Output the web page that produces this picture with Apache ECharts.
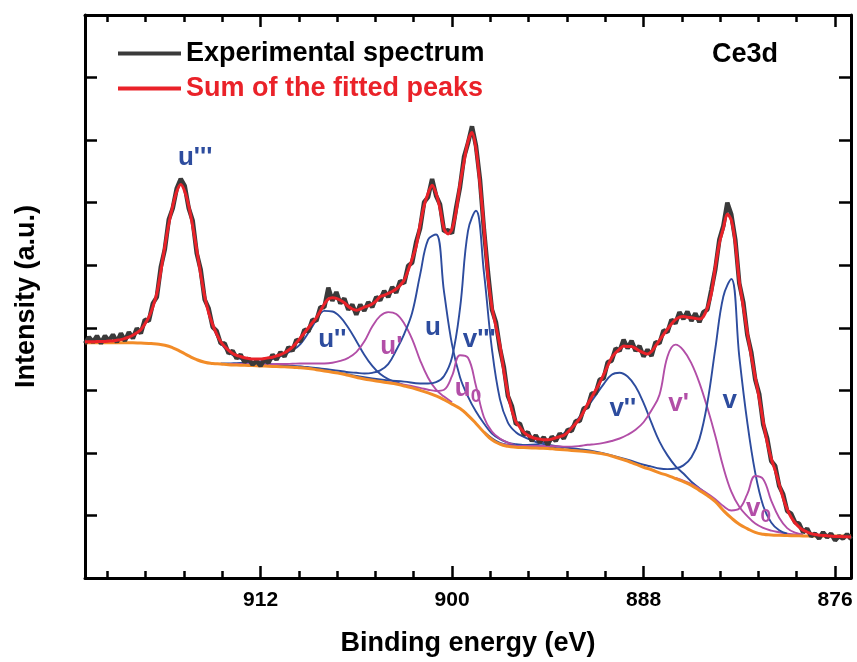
<!DOCTYPE html>
<html>
<head>
<meta charset="utf-8">
<script src="https://cdn.jsdelivr.net/npm/echarts@6/dist/echarts.min.js"></script>
<style>
  html, body { margin: 0; padding: 0; background: #fff; }
  #chart { width: 857px; height: 662px; }
</style>
</head>
<body>
<div id="chart"></div>
<script>
// Ce 3d XPS spectrum: measured curve, fitted envelope, Shirley background and component peaks.

// Binding-energy tick labels and minor tick positions (eV)
const majorTicks = [876, 888, 900, 912];
const minorTicks = [878.4, 880.8, 883.2, 885.6, 890.4, 892.8, 895.2, 897.6,
                    902.4, 904.8, 907.2, 909.6, 914.4, 916.8, 919.2, 921.6];

// Background, sampled every 0.5 eV from 875 to 923 eV (a.u.)
const backgroundStart = 875;
const backgroundStep = 0.5;
const background = [
  0.67, 0.67, 0.67, 0.67, 0.67, 0.67, 0.672, 0.675, 0.678, 0.682,
  0.688, 0.70, 0.73, 0.79, 0.86, 0.96, 1.08, 1.22, 1.32, 1.40,
  1.48, 1.54, 1.59, 1.64, 1.68, 1.73, 1.77, 1.82, 1.87, 1.91,
  1.95, 1.98, 2.00, 2.02, 2.03, 2.04, 2.05, 2.06, 2.07, 2.075,
  2.08, 2.085, 2.09, 2.105, 2.14, 2.21, 2.33, 2.47, 2.60, 2.71,
  2.78, 2.85, 2.91, 2.96, 3.00, 3.04, 3.07, 3.10, 3.12, 3.14,
  3.16, 3.18, 3.21, 3.24, 3.27, 3.29, 3.31, 3.33, 3.35, 3.36,
  3.37, 3.375, 3.38, 3.385, 3.39, 3.395, 3.40, 3.405, 3.41, 3.42,
  3.43, 3.45, 3.49, 3.55, 3.62, 3.68, 3.72, 3.74, 3.75, 3.755,
  3.76, 3.76, 3.76, 3.76, 3.76, 3.76, 3.76
];

// Spectra sampled every 0.25 eV from 875 to 923 eV (a.u.)
const spectrumStart = 875;
const spectrumStep = 0.25;
const measured = [
  0.62, 0.70, 0.63, 0.67, 0.60, 0.71, 0.65, 0.73, 0.63, 0.71,
  0.67, 0.79, 0.73, 0.87, 0.89, 1.03, 1.07, 1.34, 1.47, 1.79,
  1.87, 2.23, 2.45, 2.94, 3.17, 3.61, 3.89, 4.41, 4.71, 5.41,
  5.81, 6.00, 5.63, 5.41, 4.94, 4.61, 4.29, 4.25, 4.09, 4.23,
  4.11, 4.26, 4.14, 4.25, 4.07, 4.13, 3.93, 3.96, 3.75, 3.77,
  3.55, 3.65, 3.54, 3.71, 3.63, 3.79, 3.67, 3.81, 3.63, 3.67,
  3.47, 3.45, 3.19, 3.17, 2.95, 2.95, 2.73, 2.71, 2.51, 2.51,
  2.35, 2.37, 2.23, 2.31, 2.19, 2.26, 2.13, 2.25, 2.17, 2.28,
  2.19, 2.33, 2.29, 2.47, 2.46, 2.75, 2.91, 3.37, 3.67, 4.09,
  4.29, 4.89, 5.57, 6.37, 6.91, 7.22, 6.95, 6.73, 6.25, 5.91,
  5.51, 5.56, 5.54, 5.97, 6.11, 6.38, 6.09, 6.01, 5.59, 5.37,
  5.04, 4.99, 4.71, 4.75, 4.56, 4.65, 4.49, 4.59, 4.44, 4.49,
  4.33, 4.41, 4.27, 4.37, 4.21, 4.37, 4.29, 4.47, 4.39, 4.57,
  4.43, 4.64, 4.33, 4.33, 4.11, 4.13, 3.94, 3.97, 3.78, 3.81,
  3.63, 3.69, 3.54, 3.61, 3.49, 3.57, 3.44, 3.50, 3.39, 3.47,
  3.41, 3.51, 3.45, 3.57, 3.51, 3.63, 3.59, 3.75, 3.75, 3.95,
  4.01, 4.31, 4.45, 4.93, 5.19, 5.71, 5.91, 6.27, 6.38, 6.23,
  5.91, 5.73, 5.25, 4.97, 4.49, 4.39, 4.11, 4.13, 3.91, 3.99,
  3.83, 3.93, 3.79, 3.91, 3.77, 3.89, 3.79, 3.87, 3.75, 3.87,
  3.77, 3.85, 3.75
];
const fittedSum = [
  0.655, 0.66, 0.66, 0.665, 0.665, 0.67, 0.675, 0.68, 0.685, 0.695,
  0.71, 0.735, 0.765, 0.815, 0.88, 0.97, 1.10, 1.28, 1.50, 1.72,
  1.91, 2.17, 2.50, 2.87, 3.21, 3.55, 3.93, 4.34, 4.74, 5.35,
  5.72, 5.82, 5.59, 5.35, 4.98, 4.55, 4.32, 4.18, 4.14, 4.15,
  4.16, 4.17, 4.18, 4.17, 4.13, 4.06, 3.98, 3.89, 3.80, 3.71,
  3.62, 3.58, 3.60, 3.63, 3.67, 3.70, 3.70, 3.71, 3.66, 3.60,
  3.52, 3.39, 3.25, 3.12, 3.00, 2.89, 2.78, 2.66, 2.55, 2.47,
  2.40, 2.33, 2.28, 2.26, 2.24, 2.22, 2.21, 2.21, 2.22, 2.23,
  2.25, 2.28, 2.33, 2.41, 2.50, 2.68, 2.95, 3.30, 3.72, 4.02,
  4.33, 4.82, 5.61, 6.30, 6.86, 7.12, 6.98, 6.65, 6.30, 5.85,
  5.58, 5.50, 5.58, 5.90, 6.15, 6.28, 6.15, 5.95, 5.65, 5.30,
  5.10, 4.92, 4.76, 4.68, 4.62, 4.58, 4.55, 4.52, 4.50, 4.43,
  4.38, 4.35, 4.33, 4.30, 4.28, 4.30, 4.34, 4.40, 4.44, 4.47,
  4.48, 4.46, 4.38, 4.27, 4.16, 4.08, 4.00, 3.92, 3.84, 3.76,
  3.69, 3.64, 3.60, 3.57, 3.55, 3.53, 3.52, 3.51, 3.50, 3.50,
  3.50, 3.51, 3.52, 3.54, 3.56, 3.59, 3.64, 3.70, 3.78, 3.90,
  4.05, 4.24, 4.50, 4.85, 5.25, 5.62, 5.95, 6.18, 6.29, 6.18,
  5.95, 5.66, 5.30, 4.90, 4.55, 4.33, 4.17, 4.06, 3.97, 3.92,
  3.88, 3.85, 3.83, 3.81, 3.80, 3.79, 3.79, 3.78, 3.78, 3.78,
  3.775, 3.775, 3.775
];

// Component peaks: [binding energy (eV), height above background (a.u.)]
const peakU3 = [
  [909, 0.015], [909.5, 0.02], [910, 0.02], [910.5, 0.025], [911, 0.03], [911.5, 0.04],
  [912, 0.05], [912.5, 0.06], [913, 0.08], [913.5, 0.12], [914, 0.20], [914.5, 0.34],
  [915, 0.60], [915.5, 1.05], [916, 1.76], [916.5, 2.40], [917, 2.67], [917.5, 2.27],
  [918, 1.58], [918.5, 0.81], [919, 0.42], [919.5, 0.215], [920, 0.12], [920.5, 0.07],
  [921, 0.04], [921.5, 0.03], [922, 0.02], [922.5, 0.015], [923, 0.015]
];
const peakU2 = [
  [903, 0.01], [903.5, 0.03], [904, 0.06], [904.5, 0.12], [905, 0.23], [905.5, 0.39],
  [906, 0.58], [906.5, 0.76], [907, 0.90], [907.5, 0.97], [908, 0.96], [908.5, 0.79],
  [909, 0.57], [909.5, 0.38], [910, 0.27], [910.5, 0.20], [911, 0.14], [911.5, 0.10],
  [912, 0.07], [912.5, 0.05], [913, 0.04], [913.5, 0.03], [914, 0.02], [914.5, 0.01]
];
const peakU1 = [
  [900, 0.03], [900.5, 0.05], [901, 0.10], [901.5, 0.24], [902, 0.48], [902.5, 0.78],
  [903, 1.00], [903.5, 1.12], [904, 1.13], [904.5, 1.05], [905, 0.86], [905.5, 0.60],
  [906, 0.40], [906.5, 0.28], [907, 0.20], [907.5, 0.15], [908, 0.12], [908.5, 0.10],
  [909, 0.08], [909.5, 0.07], [910, 0.055], [910.5, 0.045], [911, 0.04], [911.5, 0.03],
  [912, 0.025], [913, 0.02], [914, 0.01]
];
const peakU = [
  [893, 0.01], [894, 0.02], [895, 0.03], [895.5, 0.04], [896, 0.05], [896.5, 0.06],
  [897, 0.08], [897.5, 0.10], [898, 0.14], [898.5, 0.19], [899, 0.30], [899.5, 0.50],
  [900, 0.95], [900.5, 1.72], [901, 2.58], [901.5, 2.45], [902, 1.85], [902.5, 1.20],
  [903, 0.83], [903.5, 0.54], [904, 0.30], [904.5, 0.18], [905, 0.12], [905.5, 0.09],
  [906, 0.07], [906.5, 0.05], [907, 0.04], [908, 0.03], [909, 0.02], [910, 0.01]
];
const peakV3 = [
  [890, 0.01], [891, 0.02], [892, 0.03], [893, 0.04], [894, 0.06], [894.5, 0.08],
  [895, 0.12], [895.5, 0.17], [896, 0.24], [896.5, 0.38], [897, 0.72], [897.5, 1.45],
  [898, 2.55], [898.5, 3.40], [899, 2.95], [899.5, 1.60], [900, 0.75], [900.5, 0.38],
  [901, 0.22], [901.5, 0.15], [902, 0.11], [903, 0.07], [904, 0.04], [905, 0.03],
  [906, 0.02], [907, 0.01]
];
const peakU0 = [
  [896, 0.03], [896.5, 0.06], [897, 0.09], [897.5, 0.13], [898, 0.24], [898.5, 0.60],
  [899, 0.92], [899.5, 0.85], [900, 0.45], [900.5, 0.16], [901, 0.08], [901.5, 0.05],
  [902, 0.04], [903, 0.02], [904, 0.01]
];
const peakV2 = [
  [884, 0.02], [885, 0.06], [885.5, 0.13], [886, 0.20], [886.5, 0.32], [887, 0.50],
  [887.5, 0.75], [888, 1.03], [888.5, 1.24], [889, 1.35], [889.5, 1.37], [890, 1.30],
  [890.5, 1.12], [891, 0.92], [891.5, 0.72], [892, 0.55], [892.5, 0.38], [893, 0.26],
  [893.5, 0.17], [894, 0.11], [894.5, 0.07], [895, 0.05], [896, 0.03], [897, 0.02], [898, 0.01]
];
const peakV1 = [
  [878, 0.015], [879, 0.03], [879.5, 0.05], [880, 0.07], [880.5, 0.10], [881, 0.14],
  [881.5, 0.20], [882, 0.28], [882.5, 0.42], [883, 0.69], [883.5, 1.05], [884, 1.40],
  [884.5, 1.72], [885, 1.95], [885.5, 2.10], [886, 2.14], [886.5, 1.90], [887, 1.25],
  [887.5, 0.95], [888, 0.72], [888.5, 0.55], [889, 0.42], [889.5, 0.32], [890, 0.24],
  [890.5, 0.18], [891, 0.14], [891.5, 0.11], [892, 0.08], [892.5, 0.06], [893, 0.05],
  [894, 0.04], [895, 0.03], [896, 0.02], [897, 0.01]
];
const peakV = [
  [879, 0.03], [879.5, 0.08], [880, 0.20], [880.5, 0.45], [881, 0.95], [881.5, 1.70],
  [882, 2.68], [882.5, 3.82], [883, 3.42], [883.5, 2.45], [884, 1.48], [884.5, 0.82],
  [885, 0.45], [885.5, 0.26], [886, 0.16], [886.5, 0.10], [887, 0.07], [887.5, 0.05],
  [888, 0.04], [889, 0.02], [890, 0.01]
];
const peakV0 = [
  [878, 0.02], [878.5, 0.05], [879, 0.12], [879.5, 0.28], [880, 0.55], [880.5, 0.88],
  [881, 0.90], [881.5, 0.55], [882, 0.25], [882.5, 0.12], [883, 0.07], [883.5, 0.04],
  [884, 0.03], [885, 0.02], [886, 0.01]
];

const BLUE = '#2d4c9e';
const MAGENTA = '#b24ea7';
const ORANGE = '#f28c28';
const RED = '#ea2229';
const DARK = '#3a3a3a';
const FONT = '"Liberation Sans", Arial, Helvetica, sans-serif';

// Peak labels: text, anchor in data coordinates, colour
const peakLabels = [
  { text: "u'''", at: [916.1, 6.72], color: BLUE },
  { text: "u''", at: [907.5, 3.80], color: BLUE },
  { text: "u'", at: [903.8, 3.70], color: MAGENTA },
  { text: "u", at: [901.2, 4.00], color: BLUE },
  { text: "v'''", at: [898.3, 3.80], color: BLUE },
  { text: "{m|u}{s|0}", at: [899.0, 3.02], color: MAGENTA },
  { text: "v''", at: [889.3, 2.70], color: BLUE },
  { text: "v'", at: [885.8, 2.78], color: MAGENTA },
  { text: "v", at: [882.6, 2.84], color: BLUE },
  { text: "{m|v}{s|0}", at: [880.8, 1.10], color: MAGENTA }
];

const bgIndex = e => Math.round((e - backgroundStart) / backgroundStep);
const onBackground = peak => peak.map(([e, h]) => [e, +(background[bgIndex(e)] + h).toFixed(3)]);
const sampled = (start, step, values) => values.map((v, i) => [+(start + step * i).toFixed(2), v]);

const components = [
  [peakU3, BLUE], [peakU2, BLUE], [peakU1, MAGENTA], [peakU, BLUE], [peakV3, BLUE],
  [peakU0, MAGENTA], [peakV2, BLUE], [peakV1, MAGENTA], [peakV, BLUE], [peakV0, MAGENTA]
];

const componentSeries = components.map(([peak, color]) => ({
  type: 'line', data: onBackground(peak), smooth: 0.4, symbol: 'none', silent: true,
  lineStyle: { color, width: 1.9 }, z: 2
}));

const axisBlack = { lineStyle: { color: '#000', width: 3 } };
const xCommon = { type: 'value', min: 875, max: 923, inverse: true, gridIndex: 0,
  splitLine: { show: false } };

const chart = echarts.init(document.getElementById('chart'), null, { renderer: 'canvas' });
chart.setOption({
  animation: false,
  textStyle: { fontFamily: FONT },
  grid: { left: 85, right: 6, top: 15, bottom: 82 },
  title: {
    text: 'Ce3d', left: 707, top: 36,
    textStyle: { fontFamily: FONT, fontSize: 27, fontWeight: 'bold', color: '#000' }
  },
  legend: {
    orient: 'vertical', left: 113, top: 35, itemWidth: 63, itemHeight: 4, itemGap: 8,
    selectedMode: false, icon: 'rect',
    textStyle: { fontFamily: FONT, fontSize: 27, fontWeight: 'bold' },
    data: [
      { name: 'Experimental spectrum', textStyle: { color: '#000' } },
      { name: 'Sum of the fitted peaks', textStyle: { color: RED } }
    ]
  },
  xAxis: [
    Object.assign({}, xCommon, {
      position: 'bottom',
      name: 'Binding energy (eV)', nameLocation: 'middle', nameGap: 52,
      nameTextStyle: { fontFamily: FONT, fontSize: 27, fontWeight: 'bold', color: '#000' },
      axisLine: axisBlack,
      axisTick: { inside: true, length: 12, lineStyle: { color: '#000', width: 2.5 }, customValues: majorTicks },
      axisLabel: { customValues: majorTicks, margin: 12, fontFamily: FONT, fontSize: 21, fontWeight: 'bold', color: '#000' }
    }),
    Object.assign({}, xCommon, {
      position: 'bottom', axisLine: { show: false },
      axisTick: { inside: true, length: 7, lineStyle: { color: '#000', width: 2.5 }, customValues: minorTicks },
      axisLabel: { show: false }
    }),
    Object.assign({}, xCommon, {
      position: 'top', axisLine: axisBlack,
      axisTick: { inside: true, length: 12, lineStyle: { color: '#000', width: 2.5 }, customValues: majorTicks },
      axisLabel: { show: false }
    }),
    Object.assign({}, xCommon, {
      position: 'top', axisLine: { show: false },
      axisTick: { inside: true, length: 7, lineStyle: { color: '#000', width: 2.5 }, customValues: minorTicks },
      axisLabel: { show: false }
    })
  ],
  yAxis: [
    {
      type: 'value', min: 0, max: 9, interval: 1, position: 'left',
      name: 'Intensity (a.u.)', nameLocation: 'middle', nameGap: 45, nameRotate: 90,
      nameTextStyle: { fontFamily: FONT, fontSize: 27, fontWeight: 'bold', color: '#000' },
      axisLine: Object.assign({ show: true }, axisBlack),
      axisTick: { show: true, inside: true, length: 12, lineStyle: { color: '#000', width: 2.5 } },
      axisLabel: { show: false }, splitLine: { show: false }
    },
    {
      type: 'value', min: 0, max: 9, interval: 1, position: 'right',
      axisLine: Object.assign({ show: true }, axisBlack),
      axisTick: { show: true, inside: true, length: 12, lineStyle: { color: '#000', width: 2.5 } },
      axisLabel: { show: false }, splitLine: { show: false }
    }
  ],
  series: componentSeries.concat([
    {
      name: 'Background', type: 'line', data: sampled(backgroundStart, backgroundStep, background),
      smooth: 0.5, symbol: 'none', silent: true, lineStyle: { color: ORANGE, width: 3 }, z: 3
    },
    {
      name: 'Experimental spectrum', type: 'line', data: sampled(spectrumStart, spectrumStep, measured),
      symbol: 'none', silent: true, lineStyle: { color: DARK, width: 4.5 }, itemStyle: { color: DARK }, z: 4
    },
    {
      name: 'Sum of the fitted peaks', type: 'line', data: sampled(spectrumStart, spectrumStep, fittedSum),
      smooth: 0.3, symbol: 'none', silent: true, lineStyle: { color: RED, width: 3 }, itemStyle: { color: RED }, z: 5
    },
    {
      name: 'Peak labels', type: 'scatter', symbolSize: 0, silent: true, z: 6,
      itemStyle: { opacity: 1 },
      data: peakLabels.map(p => ({
        value: p.at,
        label: {
          show: true, position: 'inside', formatter: p.text, color: p.color, opacity: 1,
          fontFamily: FONT, fontSize: 26, fontWeight: 'bold',
          rich: {
            m: { color: p.color, fontFamily: FONT, fontSize: 26, fontWeight: 'bold' },
            s: { color: p.color, fontFamily: FONT, fontSize: 19, fontWeight: 'bold', padding: [16, 0, 0, 0] }
          }
        }
      }))
    }
  ])
});
</script>
</body>
</html>
